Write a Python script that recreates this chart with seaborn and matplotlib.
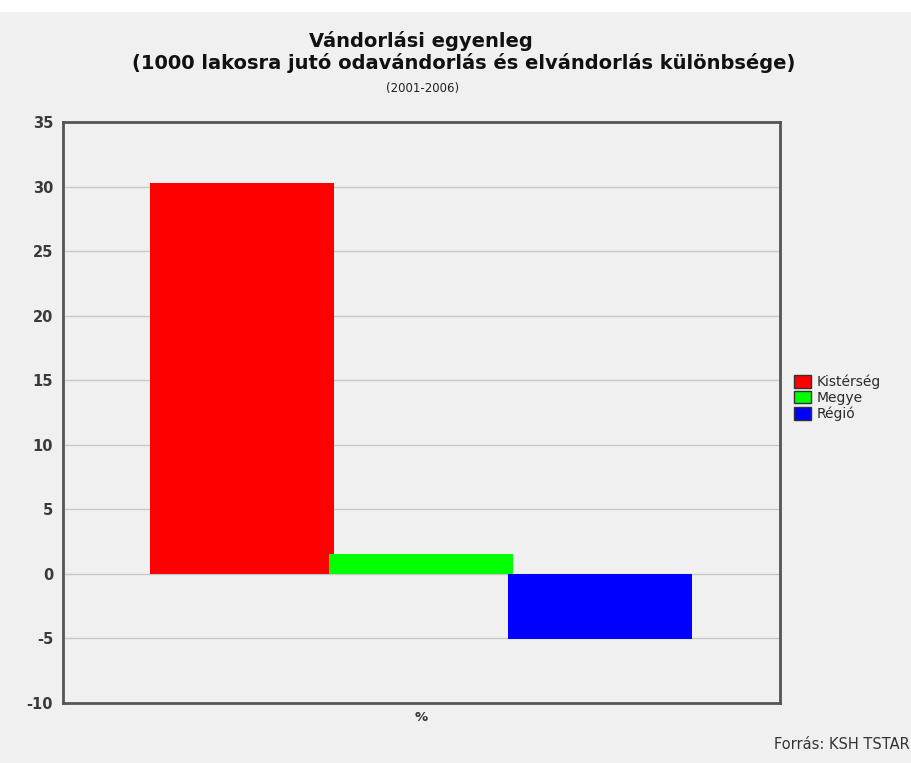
import matplotlib
matplotlib.use('Agg')
import matplotlib.pyplot as plt
import seaborn as sns
import pandas as pd

# Data
series = ['Kistérség', 'Megye', 'Régió']
values = [30.3, 1.5, -5.1]
colours = ['#ff0000', '#00ff00', '#0000ff']
yticks = [-10, -5, 0, 5, 10, 15, 20, 25, 30, 35]

df = pd.DataFrame({'cat': ['%'] * len(series), 'series': series, 'value': values})

sns.set_style('white')
plt.rcParams['font.family'] = ['DejaVu Sans']

bg = '#f0f0f0'
fig = plt.figure(figsize=(9.12, 7.63), dpi=100, facecolor=bg)
ax = fig.add_axes([0.069, 0.079, 0.786, 0.761])
ax.set_facecolor(bg)

sns.barplot(data=df, x='cat', y='value', hue='series', hue_order=series,
            palette=colours, width=0.9, saturation=1, ax=ax, zorder=3,
            edgecolor='none', legend=True)

# bars overlap a little, as in the original
for p in ax.patches:
    if p.get_width() > 0:
        w = p.get_width()
        p.set_x(p.get_x() - w * 0.015)
        p.set_width(w * 1.025)

ax.set_xlim(-0.6, 0.6)
ax.set_ylim(-10, 35)
ax.set_yticks(yticks)
ax.set_yticklabels([str(t) for t in yticks], fontsize=10.5, fontweight='bold', color='#3a3a3a')
ax.set_xticks([])
ax.set_xlabel('%', fontsize=9.5, fontweight='bold', color='#333333', labelpad=6)
ax.set_ylabel('')
ax.tick_params(axis='y', length=3, color='#888888', pad=4)

ax.yaxis.grid(True, color='#c8c8c8', linewidth=1.0, zorder=0)
ax.set_axisbelow(True)
for side in ['left', 'bottom', 'right', 'top']:
    ax.spines[side].set_color('#555555')
    ax.spines[side].set_linewidth(2)

leg = ax.legend(loc='center left', bbox_to_anchor=(1.012, 0.525), frameon=False,
                fontsize=10, handlelength=1.2, handleheight=1.0,
                handletextpad=0.4, labelspacing=0.12, borderaxespad=0)
for h in leg.legend_handles:
    h.set_edgecolor('#333333')
    h.set_linewidth(1)
for t in leg.get_texts():
    t.set_color('#2a2a2a')

# white strip at the top of the image
fig.patches.append(plt.Rectangle((0, 0.984), 1, 0.016, transform=fig.transFigure,
                                 facecolor='white', edgecolor='none', zorder=0))

fig.text(0.462, 0.946, 'Vándorlási egyenleg', ha='center', va='center',
         fontsize=14, fontweight='bold', color='#111111')
fig.text(0.508, 0.918, '(1000 lakosra jutó odavándorlás és elvándorlás különbsége)',
         ha='center', va='center', fontsize=14, fontweight='bold', color='#111111')
fig.text(0.463, 0.884, '(2001-2006)', ha='center', va='center', fontsize=8.5, color='#222222')
fig.text(0.997, 0.024, 'Forrás: KSH TSTAR', ha='right', va='center',
         fontsize=10.5, color='#333333')

fig.savefig('out.png', dpi=100, facecolor=bg)
